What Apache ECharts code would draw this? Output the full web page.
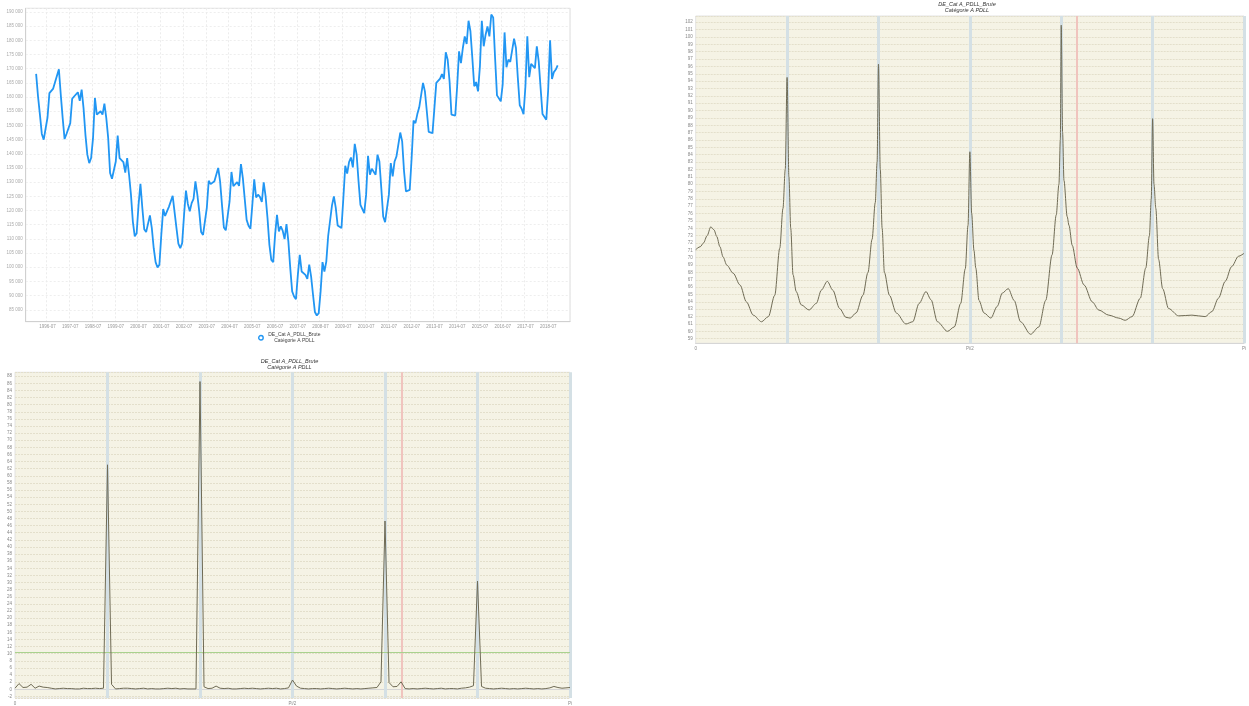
<!DOCTYPE html>
<html><head><meta charset="utf-8">
<script src="https://cdn.jsdelivr.net/npm/echarts@6/dist/echarts.min.js"></script>
<style>html,body{margin:0;padding:0;background:#fff}#c{width:1249px;height:706px}</style>
</head><body><div id="c"></div><script>
// ---------- Top-left: monthly series (1996-01 .. 2018-12) ----------
const seriesName = 'DE_Cat A_PDLL_Brute';
const seriesSub = 'Catégorie A PDLL';
const axisStart = {year: 1995, month: 8};   // first category on the axis
const axisCount = 287;                        // 1995-08 .. 2019-06
const dataStart = '1996-01';
const jobseekers = [
168200,160200,153800,147000,145000,144400,152800,161400,162200,163000,165300,164600,
169800,160800,152600,145200,147000,146500,150800,159400,160200,160100,161700,158700,
162600,156100,146700,139700,136700,138500,145500,159700,153800,153200,155000,153800,
157700,152600,145500,133200,131200,131700,137300,146400,138500,137900,137100,133400,
138500,132600,125600,116100,110900,112000,122000,129400,120900,113400,112400,112900,
118300,113800,106700,101800,99900,100900,111400,120500,118100,119700,121300,121700,
125200,119400,113800,108300,106700,108500,118500,127000,122300,119700,122600,124100,
130300,125600,119700,112400,111400,111900,120900,130500,129300,129400,130300,130500,
135000,130300,122000,114000,113000,112900,123200,133600,128600,128600,130000,128700,
136400,131400,124000,116700,114600,113600,122000,131000,124600,125600,124800,123000,
129900,125000,117300,107900,102600,101800,111400,118500,112600,114400,112900,109900,
115200,109100,99700,91500,89700,88700,97300,104400,98500,97900,97300,95900,
100900,96700,90300,84200,83000,83800,91500,101800,98500,102000,111100,110900,
121800,125000,120900,114700,115200,113800,124400,135800,133000,137100,138700,135200,
143500,139700,130300,122000,121400,119100,125600,139300,132600,134700,135300,132600,
139700,137300,127900,117900,115900,115800,125600,136700,132000,137300,139100,138700,
147500,144400,133800,126700,127000,127300,138500,151700,150800,154000,156400,155900,
165000,162000,155000,147700,147000,147300,156100,165000,165000,166500,168100,166400,
175800,173200,165500,153800,153800,153500,163800,176100,172000,177300,181400,178700,
186900,183200,173800,163800,165300,162000,170800,186900,177900,182000,184900,181400,
189100,188100,173800,160600,159900,158500,164400,182800,170500,173200,172400,172000,
180600,177300,166700,157100,155900,154000,163800,181400,167000,171700,171700,170200,
177900,172600,163200,154000,153800,152000,162600,180000,166400,168800,169700,171200
];
const yMin1 = 80800, yMax1 = 191300, yStep1 = 5000;

// ---------- Top-right: spectrum (x in units of pi/120) ----------
const specFreq = [0,1,1.7,2.5,3.3,4,4.6,5.3,6,6.8,8.2,9.7,11.1,12.6,14.4,15.9,17.3,18.4,19.1,19.6,
20,20.4,20.8,21.3,22,23.1,24.8,26.4,27.5,28.8,30,31.5,32.9,33.8,35.1,36.6,37.7,38.6,39.3,39.7,
40,40.4,40.8,41.3,42.4,43.9,46,47.5,48.9,50.4,51.5,52.9,55.1,56.6,58,59,59.6,60,60.4,60.9,
61.3,62,63.1,64.6,66,67.1,68.4,69.7,71.1,73.3,75.1,76.6,78,78.9,79.5,79.8,80,80.3,80.6,81.3,
81.7,82.4,83.5,85,86.8,88.2,90.4,92.6,94,95.5,97.3,98.5,99.3,99.7,100,100.3,100.7,101.3,102.2,103.5,
105.7,108.6,111.5,113,114.4,115.9,117.3,118.8,120];
const specDb = [71.1,71.5,72.0,73.0,74.2,73.8,72.9,71.5,70.1,69.0,67.9,66.3,64.0,62.2,61.3,62.0,64.9,71.3,76.7,82,
94.5,81,74,67.7,65.4,63.6,62.9,63.8,65.6,66.8,65.6,63.1,61.9,61.8,62.5,64.9,68.0,72.5,77.5,83,
96.3,82,74,68.0,64.9,62.5,61.0,61.3,63.8,65.4,64.3,61.3,60.0,60.6,63.8,68.5,74.4,84.4,76,71,
68.6,64.2,62.5,61.8,63.4,65.2,65.8,64.2,61.3,59.6,60.6,64.2,70.4,75.8,80.0,86,101.6,87,80.5,75.6,
74.4,71.7,68.6,66.3,64.0,62.9,62.2,61.8,61.5,62.0,64.5,68.6,73.0,78,88.9,80,76.7,69.8,65.8,63.1,
62.1,62.2,62.0,62.7,64.5,66.8,68.8,70.2,70.6];
const specXMax = 120;
const specSeasonal = [20,40,60,80,100,120];
const specTradingDay = [83.5];
const yMin2 = 58.375, yMax2 = 102.85;

// ---------- Bottom: periodogram (j = 0..138, Fourier freqs 2*pi*j/276) ----------
const perio = [
0.3,1.6,0.5,0.6,1.4,0.3,0.9,0.6,0.5,0.3,
0.1,0.2,0.3,0.2,0.2,0.1,0.1,0.3,0.2,0.2,
0.3,0.2,0.3,63.1,1.4,0.1,0.2,0.3,0.3,0.2,
0.1,0.2,0.3,0.1,0.2,0.1,0.1,0.2,0.3,0.2,
0.3,0.1,0.2,0.1,0.1,0.1,86.5,0.7,0.2,0.3,
0.9,0.3,0.2,0.3,0.1,0.1,0.2,0.3,0.2,0.3,
0.2,0.1,0.2,0.3,0.2,0.3,0.1,0.2,0.4,2.6,
0.9,0.3,0.2,0.1,0.2,0.2,0.1,0.2,0.3,0.2,
0.1,0.2,0.3,0.2,0.1,0.2,0.1,0.2,0.3,0.4,
0.5,2.1,47.3,1.9,0.7,0.8,2.1,0.2,0.1,0.2,
0.1,0.2,0.3,0.2,0.1,0.2,0.3,0.1,0.2,0.2,
0.1,0.3,0.4,0.6,1.0,30.4,0.8,0.3,0.2,0.1,
0.2,0.3,0.2,0.1,0.2,0.1,0.2,0.3,0.2,0.1,
0.2,0.1,0.2,0.4,0.8,0.5,0.3,0.4,0.5];
const perioXMax = 138;
const perioSeasonal = [23, 46, 69, 92, 115, 138];
const perioTradingDay = [96.1];
const perioThreshold = 10.5;
const yMin3 = -2.45, yMax3 = 89.1;

// ---------- build ----------
const categories = [];
for (let k = 0; k < axisCount; k++) {
  const m0 = axisStart.month - 1 + k;
  const y = axisStart.year + Math.floor(m0 / 12);
  const m = (m0 % 12) + 1;
  categories.push(y + '-' + (m < 10 ? '0' + m : m));
}
const offset = categories.indexOf(dataStart);
const lineData = categories.map((c, k) => {
  const v = jobseekers[k - offset];
  return v === undefined ? null : v;
});
const isJuly = (idx, val) => String(val).slice(5) === '07';
const thousands = v => String(Math.round(v)).replace(/\B(?=(\d{3})+(?!\d))/g, ' ');
const FONT = 'Liberation Sans, Arial, sans-serif';
const BEIGE = '#f5f3e5';
const piLabel = (max) => (v) => v === 0 ? '0' : (Math.abs(v - max / 2) < 1e-6 ? 'Pi/2' : (Math.abs(v - max) < 1e-6 ? 'Pi' : ''));
const vline = (f, color, width) => ({xAxis: f, lineStyle: {color: color, width: width, type: 'solid'}});

const chart = echarts.init(document.getElementById('c'), null, {renderer: 'canvas'});
const specTitle = (cx, top) => ({
  text: seriesName, subtext: seriesSub, left: cx, top: top, textAlign: 'center', padding: 0, itemGap: 0,
  textStyle: {fontSize: 5.5, lineHeight: 6, fontStyle: 'italic', fontWeight: 'normal', color: '#333', fontFamily: FONT},
  subtextStyle: {fontSize: 5.5, lineHeight: 6, fontStyle: 'italic', color: '#333', fontFamily: FONT}
});

chart.setOption({
  animation: false,
  textStyle: {fontFamily: FONT},
  title: [specTitle(967, 1.7), specTitle(289.5, 358)],
  legend: {
    left: 258, top: 332, itemWidth: 4.5, itemHeight: 4.5, itemGap: 2, padding: 0,
    icon: 'circle',
    data: [{name: seriesName, itemStyle: {color: '#ffffff', borderColor: '#2196f3', borderWidth: 1.4}}],
    formatter: () => '{a|' + seriesName + '}\n{b|' + seriesSub + '}',
    textStyle: {fontSize: 5, color: '#444', padding: [0, 0, 0, 0], rich: {
      a: {fontSize: 5, lineHeight: 6.5, color: '#444'},
      b: {fontSize: 5, lineHeight: 6.5, color: '#444', padding: [0, 0, 0, 6]}
    }}
  },
  grid: [
    {left: 25.7, top: 8.3, width: 544.3, height: 313.4, show: true, backgroundColor: '#fff', borderColor: '#dcdcdc', borderWidth: 1, containLabel: false},
    {left: 695.7, top: 16, width: 551.3, height: 327.3, show: true, backgroundColor: BEIGE, borderColor: '#e2e2e2', borderWidth: 1, containLabel: false},
    {left: 15, top: 372.3, width: 555, height: 327, show: true, backgroundColor: BEIGE, borderColor: '#e2e2e2', borderWidth: 1, containLabel: false}
  ],
  xAxis: [
    {gridIndex: 0, type: 'category', data: categories, boundaryGap: true,
      axisLine: {lineStyle: {color: '#d0d0d0'}}, axisTick: {show: false},
      axisLabel: {interval: isJuly, fontSize: 4.5, color: '#999', margin: 3},
      splitLine: {show: true, interval: isJuly, lineStyle: {color: '#ececec', type: [2, 2]}}},
    {gridIndex: 1, type: 'value', min: 0, max: specXMax, interval: specXMax / 2,
      axisLine: {lineStyle: {color: '#d6d6d6'}}, axisTick: {show: false}, splitLine: {show: false},
      axisLabel: {fontSize: 4.5, color: '#888', margin: 3, formatter: piLabel(specXMax)}},
    {gridIndex: 2, type: 'value', min: 0, max: perioXMax, interval: perioXMax / 2,
      axisLine: {lineStyle: {color: '#d6d6d6'}}, axisTick: {show: false}, splitLine: {show: false},
      axisLabel: {fontSize: 4.5, color: '#888', margin: 3, formatter: piLabel(perioXMax)}}
  ],
  yAxis: [
    {gridIndex: 0, type: 'value', min: yMin1, max: yMax1, minInterval: yStep1, maxInterval: yStep1,
      axisLine: {show: true, lineStyle: {color: '#d0d0d0'}}, axisTick: {show: false},
      axisLabel: {fontSize: 4.5, color: '#aaa', margin: 3, showMinLabel: false, showMaxLabel: false,
        formatter: v => (v % yStep1 === 0 ? thousands(v) : '')},
      splitLine: {lineStyle: {color: '#eeeeee', type: [2, 2]}}},
    {gridIndex: 1, type: 'value', min: yMin2, max: yMax2, minInterval: 1, maxInterval: 1,
      axisLine: {show: false}, axisTick: {show: false},
      axisLabel: {fontSize: 4.5, color: '#888', margin: 3, showMinLabel: false, showMaxLabel: false,
        formatter: v => (Number.isInteger(v) ? String(v) : '')},
      splitLine: {lineStyle: {color: '#e3dfcb', type: [2, 1]}}},
    {gridIndex: 2, type: 'value', min: yMin3, max: yMax3, minInterval: 2, maxInterval: 2,
      axisLine: {show: false}, axisTick: {show: false},
      axisLabel: {fontSize: 4.5, color: '#888', margin: 3, showMinLabel: false, showMaxLabel: false,
        formatter: v => (Number.isInteger(v) ? String(v) : '')},
      splitLine: {lineStyle: {color: '#e3dfcb', type: [2, 1]}}}
  ],
  series: [
    {name: seriesName, type: 'line', xAxisIndex: 0, yAxisIndex: 0, data: lineData,
      symbol: 'circle', showSymbol: false, connectNulls: false,
      lineStyle: {color: '#2196f3', width: 1.8}, itemStyle: {color: '#2196f3'}},
    {name: 'spectre', type: 'line', xAxisIndex: 1, yAxisIndex: 1, z: 3,
      data: specFreq.map((f, k) => [f, specDb[k]]), showSymbol: false, smooth: 0.3, smoothMonotone: 'x',
      lineStyle: {color: '#6f6b55', width: 1},
      markLine: {silent: true, z: 1, symbol: ['none', 'none'], label: {show: false},
        data: specSeasonal.map(f => vline(f, '#d4e0e5', 3)).concat(specTradingDay.map(f => vline(f, '#f0c4be', 2)))}},
    {name: 'periodogramme', type: 'line', xAxisIndex: 2, yAxisIndex: 2, z: 3,
      data: perio.map((v, j) => [j, v]), showSymbol: false,
      lineStyle: {color: '#6f6b55', width: 1},
      markLine: {silent: true, z: 1, symbol: ['none', 'none'], label: {show: false},
        data: perioSeasonal.map(f => vline(f, '#d4e0e5', 3))
          .concat(perioTradingDay.map(f => vline(f, '#f0c4be', 2)))
          .concat([{yAxis: perioThreshold, lineStyle: {color: '#a9d28e', width: 1, type: 'solid'}}])}}
  ]
});
</script></body></html>
